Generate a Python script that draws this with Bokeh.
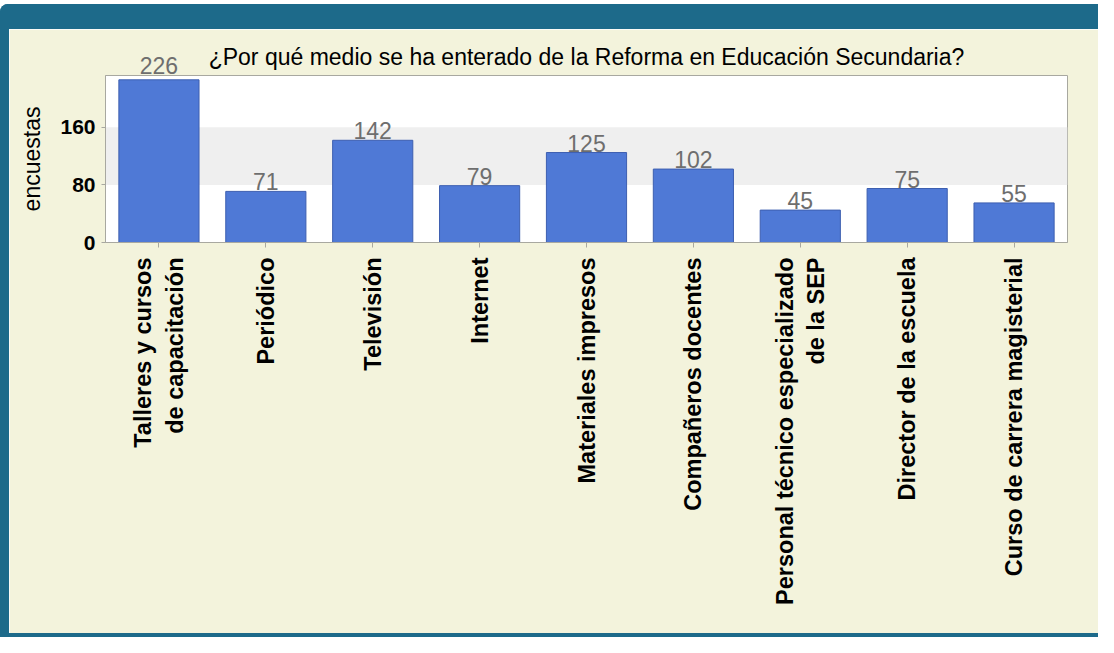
import math
from bokeh.plotting import figure
from bokeh.models import (BoxAnnotation, LabelSet, ColumnDataSource, FixedTicker, Range1d,
                          LinearAxis)
from bokeh.core.properties import value
from bokeh.embed import file_html
from bokeh.resources import INLINE

categories = ["Talleres y cursos\nde capacitación", "Periódico", "Televisión", "Internet",
              "Materiales impresos", "Compañeros docentes",
              "Personal técnico especializado\nde la SEP", "Director de la escuela",
              "Curso de carrera magisterial"]
values = [226, 71, 142, 79, 125, 102, 45, 75, 55]
y_ticks = [0, 80, 160]
band = [80, 160]
title = "¿Por qué medio se ha enterado de la Reforma en Educación Secundaria?"
y_label = "encuestas"
y_max = 232

FONT = "Liberation Sans"
TEAL = "#1d6a8a"
BEIGE = "#f3f3dc"
GREY_LINE = "#a8a8a0"

pos = list(range(len(categories)))  # one slot per category

# labels that fit inside the plot area are drawn at the bars, the others above the frame
inside = [i for i, v in enumerate(values) if v < 200]
outside = [i for i, v in enumerate(values) if v >= 200]
src_in = ColumnDataSource(dict(x=[pos[i] for i in inside],
                               val=[values[i] for i in inside],
                               txt=[str(values[i]) for i in inside]))
src_bar = ColumnDataSource(dict(x=pos, val=values))

p = figure(x_range=Range1d(-0.5, len(categories) - 0.5), y_range=Range1d(0, y_max),
           frame_width=962, frame_height=167, output_backend="svg", toolbar_location=None,
           x_axis_location=None,
           min_border_left=96, min_border_right=31, min_border_top=46, min_border_bottom=391,
           styles={"border-left": f"9px solid {TEAL}",
                   "border-top": f"25px solid {TEAL}",
                   "border-bottom": f"4px solid {TEAL}",
                   "border-top-left-radius": "8px",
                   "margin-top": "4px",
                   "box-sizing": "content-box"})

p.background_fill_color = "white"
p.border_fill_color = BEIGE
p.outline_line_color = GREY_LINE
p.outline_line_width = 1

p.add_layout(BoxAnnotation(bottom=band[0], top=band[1], fill_color="#efefef", fill_alpha=1,
                           line_alpha=0, level="underlay"))

p.vbar(x="x", top="val", width=0.75, source=src_bar, fill_color="#4f79d6",
       line_color="#3d5fb0", line_width=1)

labels = LabelSet(x="x", y="val", text="txt", source=src_in, text_align="center",
                  text_baseline="bottom", y_offset=1, text_font=value(FONT),
                  text_font_size="23px", text_color="#6e6e6e")
p.add_layout(labels)

p.grid.visible = False

# category axis below
xb = LinearAxis(
    ticker=FixedTicker(ticks=pos),
    major_label_overrides={i: c for i, c in zip(pos, categories)},
    major_label_orientation=math.pi / 2,
    major_tick_in=0, major_tick_out=5, minor_tick_line_color=None,
    major_tick_line_color=GREY_LINE, axis_line_color=GREY_LINE,
    major_label_text_font=FONT, major_label_text_font_size="23.5px",
    major_label_text_font_style="bold", major_label_text_color="black",
    major_label_standoff=10)
p.add_layout(xb, "below")

# axis above: value label of the tall bar + title
top_axis = LinearAxis(
    ticker=FixedTicker(ticks=[pos[i] for i in outside]),
    major_label_overrides={pos[i]: str(values[i]) for i in outside},
    major_tick_in=0, major_tick_out=0, minor_tick_line_color=None, axis_line_color=None,
    major_label_standoff=2,
    major_label_text_font=FONT, major_label_text_font_size="23px",
    major_label_text_color="#6e6e6e",
    axis_label=title, axis_label_text_font=FONT, axis_label_text_font_size="23px",
    axis_label_text_font_style="normal", axis_label_text_color="black",
    axis_label_standoff=-16)
p.add_layout(top_axis, "above")

p.yaxis.ticker = FixedTicker(ticks=y_ticks)
p.yaxis.minor_tick_line_color = None
p.yaxis.major_tick_in = 0
p.yaxis.major_tick_out = 4
p.yaxis.major_tick_line_color = GREY_LINE
p.yaxis.axis_line_color = GREY_LINE
p.yaxis.major_label_text_font = FONT
p.yaxis.major_label_text_font_size = "21px"
p.yaxis.major_label_text_font_style = "bold"
p.yaxis.major_label_text_color = "black"
p.yaxis.major_label_standoff = 6
p.yaxis.axis_label = y_label
p.yaxis.axis_label_text_font = FONT
p.yaxis.axis_label_text_font_size = "23px"
p.yaxis.axis_label_text_font_style = "normal"
p.yaxis.axis_label_text_color = "black"
p.yaxis.axis_label_standoff = 12

open("out.html", "w").write(file_html(p, INLINE))
